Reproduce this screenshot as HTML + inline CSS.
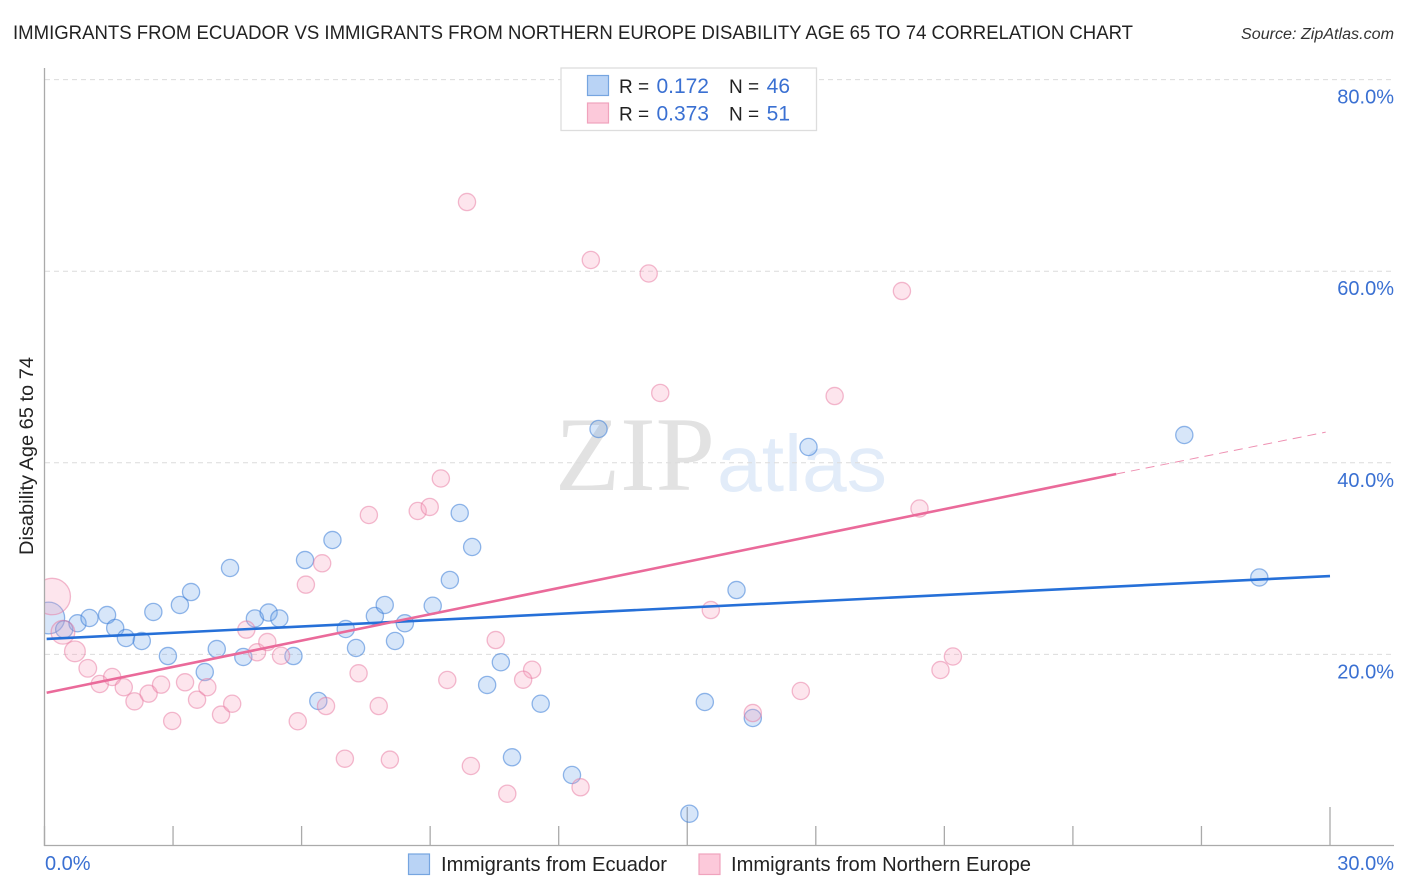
<!DOCTYPE html>
<html lang="en">
<head>
<meta charset="utf-8">
<title>Immigrants from Ecuador vs Immigrants from Northern Europe Disability Age 65 to 74 Correlation Chart</title>
<style>
html,body{margin:0;padding:0;background:#fff;width:1406px;height:892px;overflow:hidden}
svg{display:block}
text{font-family:"Liberation Sans",sans-serif}
</style>
</head>
<body>
<svg id="chart" width="1406" height="892" viewBox="0 0 1406 892" xmlns="http://www.w3.org/2000/svg">
  <defs>
    <clipPath id="plot-clip"><rect x="44.5" y="60" width="1350" height="786"></rect></clipPath>
  </defs>
  <text x="13" y="39" font-size="19.5" fill="#222" textLength="1120" lengthAdjust="spacingAndGlyphs">IMMIGRANTS FROM ECUADOR VS IMMIGRANTS FROM NORTHERN EUROPE DISABILITY AGE 65 TO 74 CORRELATION CHART</text>
  <text x="1241" y="39" font-size="15.5" font-style="italic" fill="#333" textLength="153" lengthAdjust="spacingAndGlyphs">Source: ZipAtlas.com</text>
  <g>
    <text x="555" y="490" font-size="106" fill="#e2e2e2" style="font-family:'Liberation Serif',serif" textLength="160" lengthAdjust="spacingAndGlyphs">ZIP</text>
    <text x="717" y="491" font-size="80" fill="#e2ecf9" textLength="170" lengthAdjust="spacingAndGlyphs">atlas</text>
  </g>
  <g id="grid"></g>
  <g id="ticks"></g>
  <g id="ylabels"></g>
  <g id="xlabels"></g>
  <text transform="translate(33,555) rotate(-90)" font-size="19" fill="#222" textLength="198" lengthAdjust="spacingAndGlyphs">Disability Age 65 to 74</text>
  <g id="points-blue" clip-path="url(#plot-clip)"></g>
  <g id="points-pink" clip-path="url(#plot-clip)"></g>
  <rect x="20" y="565" width="24.5" height="90" fill="#fff"></rect>
  <g id="axes">
    <line x1="44.5" y1="68" x2="44.5" y2="846" stroke="#aaa" stroke-width="1.3"></line>
    <line x1="44" y1="845.5" x2="1394" y2="845.5" stroke="#aaa" stroke-width="1.3"></line>
  </g>
  <g id="trends"></g>

  <g>
    <rect x="561" y="68" width="255.5" height="62.5" fill="#fff" stroke="#ddd" stroke-width="1.3"></rect>
    <rect x="587.5" y="75.5" width="21" height="20" fill="#b9d3f5" stroke="#76a5e0" stroke-width="1.2"></rect>
    <rect x="587.5" y="103" width="21" height="20" fill="#fcc9da" stroke="#f0a3bd" stroke-width="1.2"></rect>
    <text x="619" y="93" font-size="19" fill="#222">R =</text>
    <text x="709" y="93" font-size="21" fill="#3a70d2" text-anchor="end">0.172</text>
    <text x="729" y="93" font-size="19" fill="#222">N =</text>
    <text x="790" y="93" font-size="21" fill="#3a70d2" text-anchor="end">46</text>
    <text x="619" y="120.5" font-size="19" fill="#222">R =</text>
    <text x="709" y="120.5" font-size="21" fill="#3a70d2" text-anchor="end">0.373</text>
    <text x="729" y="120.5" font-size="19" fill="#222">N =</text>
    <text x="790" y="120.5" font-size="21" fill="#3a70d2" text-anchor="end">51</text>
  </g>

  <g>
    <g>
      <rect x="408.5" y="854" width="21" height="20.5" fill="#b9d3f5" stroke="#76a5e0" stroke-width="1.2"></rect>
      <text x="441" y="871" font-size="20" fill="#222" textLength="226" lengthAdjust="spacingAndGlyphs">Immigrants from Ecuador</text>
    </g>
    <g>
      <rect x="699" y="854" width="21" height="20.5" fill="#fcc9da" stroke="#f0a3bd" stroke-width="1.2"></rect>
      <text x="731" y="871" font-size="20" fill="#222" textLength="300" lengthAdjust="spacingAndGlyphs">Immigrants from Northern Europe</text>
    </g>
  </g>
</svg>
<script>
var yTickValues = [20, 40, 60, 80];
var yTickLabels = ["20.0%", "40.0%", "60.0%", "80.0%"];
var xTickValues = [0, 3, 6, 9, 12, 15, 18, 21, 24, 27, 30];
var xMajorTicks = [15, 30];
var xEndLabels = ["0.0%", "30.0%"];

var ecuadorX = [0.10,0.46,0.77,1.05,1.46,1.65,1.90,2.27,2.88,2.54,3.16,3.42,4.33,3.74,4.02,4.64,4.91,5.23,5.48,5.81,6.39,6.08,6.72,7.03,7.27,7.71,7.94,8.41,8.18,9.06,9.46,9.98,10.65,10.33,11.58,10.91,12.31,15.05,9.69,12.93,15.41,16.15,16.53,17.83,26.60,28.35];
var ecuadorY = [23.80,22.62,23.25,23.80,24.11,22.76,21.71,21.40,19.83,24.43,25.16,26.51,29.02,18.16,20.56,19.73,23.75,24.37,23.75,19.83,15.14,29.85,31.94,22.65,20.67,24.01,25.16,23.25,21.40,25.08,27.77,31.21,19.18,16.81,14.85,9.26,7.41,3.37,34.76,43.53,15.03,26.72,13.36,41.65,42.90,28.03];
var ecuadorWeight = [3.4,1,1,1,1,1,1,1,1,1,1,1,1,1,1,1,1,1,1,1,1,1,1,1,1,1,1,1,1,1,1,1,1,1,1,1,1,1,1,1,1,1,1,1,1,1];

var europeX = [0.18,0.43,0.71,1.01,1.29,1.58,1.85,2.10,2.43,2.72,2.98,3.28,3.56,3.80,4.12,4.38,4.71,4.96,5.20,5.52,5.91,6.10,6.48,6.57,7.01,7.33,7.80,8.06,9.40,9.95,10.53,11.38,11.17,10.80,12.51,7.57,8.71,8.99,9.25,9.86,12.75,14.10,14.37,15.55,16.53,17.65,18.44,20.01,20.42,20.91,21.20];
var europeY = [26.04,22.31,20.32,18.55,16.91,17.64,16.57,15.10,15.90,16.84,13.05,17.09,15.27,16.57,13.71,14.85,22.58,20.22,21.29,19.86,13.02,27.28,29.51,14.61,9.11,18.03,14.61,9.01,17.33,8.35,21.50,18.40,17.36,5.46,6.13,34.55,34.97,35.39,38.36,67.22,61.17,59.76,47.29,24.63,13.88,16.18,46.97,57.93,35.23,18.37,19.78];
var europeWeight = [4.5,1.9,1.45,1.05,1,1,1,1,1,1,1,1,1,1,1,1,1,1,1,1,1,1,1,1,1,1,1,1,1,1,1,1,1,1,1,1,1,1,1,1,1,1,1,1,1,1,1,1,1,1,1];

var ecuadorTrendX = [0.05, 30.0];
var ecuadorTrendY = [21.61, 28.18];
var europeTrendX = [0.05, 25.01];
var europeTrendY = [16.0, 38.83];
var europeForecastX = [25.01, 29.9];
var europeForecastY = [38.83, 43.2];

var SVG_NS = "http://www.w3.org/2000/svg";
function sx(v) { return 44.5 + v * (1330 - 44.5) / 30; }
function sy(v) { return 846 - v * (846 - 654.4) / 20; }
function sr(w) { return 8.6 * Math.sqrt(w); }
function make(tag, parentId) {
  var el = document.createElementNS(SVG_NS, tag);
  document.getElementById(parentId).appendChild(el);
  return el;
}

yTickValues.forEach(function (v, i) {
  var g = make("line", "grid");
  
  
  g.setAttribute("x1", 45);
  g.setAttribute("x2", 1394);
  g.setAttribute("y1", sy(v));
  g.setAttribute("y2", sy(v));
  g.setAttribute("stroke", "#dcdcdc");
  g.setAttribute("stroke-width", "1");
  g.setAttribute("stroke-dasharray", "5 4");
  var t = make("text", "ylabels");
  
  
  t.setAttribute("x", 1394);
  t.setAttribute("y", sy(v) + 24);
  t.setAttribute("font-size", "20");
  t.setAttribute("fill", "#3a70d2");
  t.setAttribute("text-anchor", "end");
  t.textContent = yTickLabels[i];
});

xTickValues.forEach(function (v) {
  var t = make("line", "ticks");
  
  
  t.setAttribute("x1", sx(v));
  t.setAttribute("x2", sx(v));
  t.setAttribute("y1", xMajorTicks.indexOf(v) >= 0 ? 807 : 826);
  t.setAttribute("y2", 846);
  t.setAttribute("stroke", "#aaa");
  t.setAttribute("stroke-width", "1.3");
});

var xl0 = make("text", "xlabels");


xl0.setAttribute("x", 45);
xl0.setAttribute("y", 870);
xl0.setAttribute("font-size", "20");
xl0.setAttribute("fill", "#3a70d2");
xl0.textContent = xEndLabels[0];

var xl1 = make("text", "xlabels");


xl1.setAttribute("x", 1394);
xl1.setAttribute("y", 870);
xl1.setAttribute("font-size", "20");
xl1.setAttribute("fill", "#3a70d2");
xl1.setAttribute("text-anchor", "end");
xl1.textContent = xEndLabels[1];

ecuadorX.forEach(function (x, i) {
  var c = make("circle", "points-blue");
  
  
  c.setAttribute("cx", sx(x));
  c.setAttribute("cy", sy(ecuadorY[i]));
  c.setAttribute("r", sr(ecuadorWeight[i]));
  c.setAttribute("fill", "rgba(110,165,235,0.28)");
  c.setAttribute("stroke", "rgba(60,125,215,0.55)");
  c.setAttribute("stroke-width", "1.3");
});

europeX.forEach(function (x, i) {
  var c = make("circle", "points-pink");
  
  
  c.setAttribute("cx", sx(x));
  c.setAttribute("cy", sy(europeY[i]));
  c.setAttribute("r", sr(europeWeight[i]));
  c.setAttribute("fill", "rgba(248,160,190,0.28)");
  c.setAttribute("stroke", "rgba(232,120,160,0.5)");
  c.setAttribute("stroke-width", "1.3");
});

var lb = make("line", "trends");


lb.setAttribute("x1", sx(ecuadorTrendX[0]));
lb.setAttribute("y1", sy(ecuadorTrendY[0]));
lb.setAttribute("x2", sx(ecuadorTrendX[1]));
lb.setAttribute("y2", sy(ecuadorTrendY[1]));
lb.setAttribute("stroke", "#2670d8");
lb.setAttribute("stroke-width", "2.6");

var lp = make("line", "trends");


lp.setAttribute("x1", sx(europeTrendX[0]));
lp.setAttribute("y1", sy(europeTrendY[0]));
lp.setAttribute("x2", sx(europeTrendX[1]));
lp.setAttribute("y2", sy(europeTrendY[1]));
lp.setAttribute("stroke", "#ea6a9a");
lp.setAttribute("stroke-width", "2.6");

var lf = make("line", "trends");


lf.setAttribute("x1", sx(europeForecastX[0]));
lf.setAttribute("y1", sy(europeForecastY[0]));
lf.setAttribute("x2", sx(europeForecastX[1]));
lf.setAttribute("y2", sy(europeForecastY[1]));
lf.setAttribute("stroke", "#ee8fb1");
lf.setAttribute("stroke-width", "1");
lf.setAttribute("stroke-dasharray", "9 6");
</script>
</body>
</html>
